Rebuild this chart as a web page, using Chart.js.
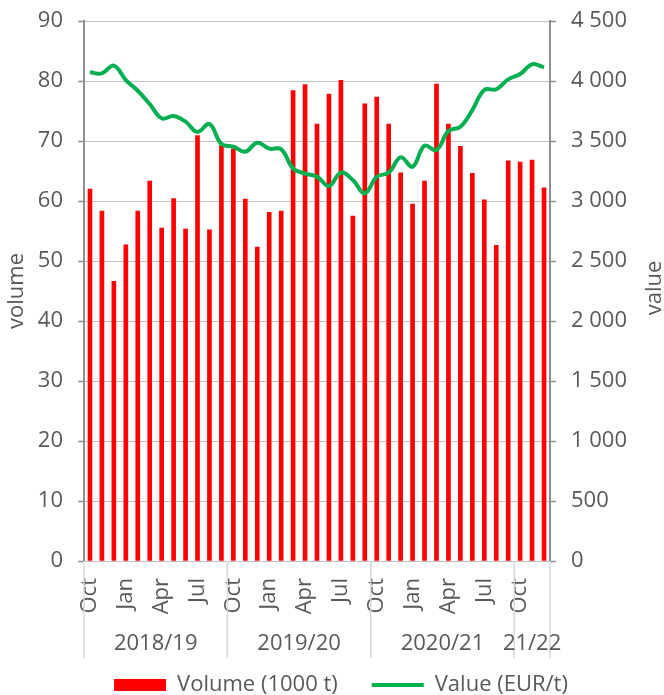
<!DOCTYPE html>
<html>
<head>
<meta charset="utf-8">
<script src="https://cdn.jsdelivr.net/npm/chart.js@4"></script>
<style>
html,body{margin:0;padding:0;background:#fff;}
#wrap{width:664px;height:695px;position:relative;}
</style>
</head>
<body>
<div id="wrap"><canvas id="c" width="664" height="695"></canvas></div>
<script>
// Month categories Oct 2018 .. Dec 2021
const months = ['Oct','Nov','Dec','Jan','Feb','Mar','Apr','May','Jun','Jul','Aug','Sep',
                'Oct','Nov','Dec','Jan','Feb','Mar','Apr','May','Jun','Jul','Aug','Sep',
                'Oct','Nov','Dec','Jan','Feb','Mar','Apr','May','Jun','Jul','Aug','Sep',
                'Oct','Nov','Dec'];
const years = ['2018/19','2019/20','2020/21','21/22'];
const yearSizes = [12, 12, 12, 3];

// Volume (1000 t)
const volume = [62.0, 58.3, 46.6, 52.7, 58.3, 63.3, 55.5, 60.4, 55.3, 70.9, 55.2, 69.2,
                68.7, 60.3, 52.3, 58.1, 58.3, 78.4, 79.4, 72.8, 77.8, 80.1, 57.5, 76.2,
                77.3, 72.8, 64.7, 59.5, 63.3, 79.5, 72.8, 69.1, 64.6, 60.2, 52.6, 66.7,
                66.5, 66.8, 62.2];
// Value (EUR/t)
const value = [4072, 4064, 4128, 4008, 3919, 3808, 3689, 3708, 3661, 3575, 3642, 3475,
               3453, 3411, 3486, 3436, 3431, 3272, 3228, 3203, 3125, 3236, 3175, 3064,
               3203, 3236, 3364, 3286, 3461, 3425, 3583, 3619, 3758, 3925, 3931, 4014,
               4058, 4139, 4114];

const FONT = 'Open Sans';
const TXT = '#595959';
const AXIS = '#8f8f8f';
const GRID = '#c0c0c0';

const fmt = v => String(v).replace(/\B(?=(\d{3})+(?!\d))/g, ' ');

const extras = {
  id: 'extras',
  afterLayout(chart) {
    if (chart.legend) { chart.legend.left += 18; }
  },
  afterDraw(chart) {
    const ctx = chart.ctx;
    const x = chart.scales.x;
    const area = chart.chartArea;
    ctx.save();
    // group separators
    ctx.strokeStyle = '#d9d9d9';
    ctx.lineWidth = 1.5;
    let acc = 0;
    const bounds = [-0.5];
    yearSizes.forEach(n => { acc += n; bounds.push(acc - 0.5); });
    bounds.forEach(b => {
      const px = x.getPixelForValue(b);
      ctx.beginPath();
      ctx.moveTo(px, area.bottom);
      ctx.lineTo(px, area.bottom + 97);
      ctx.stroke();
    });
    // year labels
    ctx.fillStyle = TXT;
    ctx.font = '22px "' + FONT + '"';
    ctx.textAlign = 'center';
    ctx.textBaseline = 'middle';
    acc = 0;
    years.forEach((yl, i) => {
      const s = acc, e = acc + yearSizes[i] - 1;
      acc += yearSizes[i];
      const cx = (x.getPixelForValue(s - 0.5) + x.getPixelForValue(e + 0.5)) / 2;
      ctx.fillText(yl, cx, area.bottom + 83);
    });
    // right axis title (reads bottom-to-top)
    ctx.translate(655, (area.top + area.bottom) / 2 - 3);
    ctx.rotate(-Math.PI / 2);
    ctx.fillText('value', 0, 0);
    ctx.restore();
  }
};

const fitY = w => s => { s.width = w; s.paddingTop = 0; s.paddingBottom = 0; };

new Chart(document.getElementById('c'), {
  data: {
    labels: months,
    datasets: [
      {
        type: 'bar',
        label: 'Volume (1000 t)',
        data: volume,
        backgroundColor: '#ff0000',
        borderWidth: 0,
        barThickness: 4,
        yAxisID: 'y',
        order: 1
      },
      {
        type: 'line',
        label: 'Value (EUR/t)',
        data: value,
        borderColor: '#00b050',
        backgroundColor: '#00b050',
        borderWidth: 4,
        pointRadius: 0,
        tension: 0.4,
        yAxisID: 'y1',
        order: 0
      }
    ]
  },
  options: {
    responsive: false,
    animation: false,
    layout: { padding: { top: 21, left: 0, right: 0, bottom: 0 } },
    scales: {
      x: {
        type: 'category',
        offset: true,
        grid: { display: false },
        border: { display: false },
        ticks: {
          autoSkip: false,
          maxRotation: 90,
          minRotation: 90,
          padding: 9,
          color: TXT,
          font: { family: FONT, size: 22 },
          callback: function (val, idx) { return idx % 3 === 0 ? this.getLabelForValue(val) : ''; }
        },
        afterFit: s => { s.height = 79; }
      },
      y: {
        position: 'left',
        min: 0, max: 90,
        ticks: { stepSize: 10, padding: 15, color: TXT, font: { family: FONT, size: 22 } },
        grid: { color: GRID, lineWidth: 1, tickColor: AXIS, tickLength: 6, tickWidth: 1.5 },
        border: { display: true, color: AXIS, width: 2 },
        title: { display: true, text: 'volume', color: TXT, font: { family: FONT, size: 22 }, padding: { top: 4, bottom: 0 } },
        afterFit: fitY(84)
      },
      y1: {
        position: 'right',
        min: 0, max: 4500,
        ticks: { stepSize: 500, padding: 15, color: TXT, font: { family: FONT, size: 22 }, callback: v => fmt(v) },
        grid: { drawOnChartArea: false, tickColor: AXIS, tickLength: 6, tickWidth: 1.5 },
        border: { display: true, color: AXIS, width: 2 },
        afterFit: fitY(114)
      }
    },
    plugins: {
      tooltip: { enabled: false },
      legend: {
        position: 'bottom',
        maxHeight: 55,
        labels: {
          usePointStyle: true,
          pointStyleWidth: 52,
          boxHeight: 12,
          padding: 34,
          color: TXT,
          font: { family: FONT, size: 22 },
          sort: (a, b) => a.datasetIndex - b.datasetIndex,
          generateLabels(chart) {
            const items = Chart.defaults.plugins.legend.labels.generateLabels(chart);
            items.forEach(it => {
              if (it.datasetIndex === 0) {
                it.pointStyle = 'rect'; it.lineWidth = 0;
                it.fillStyle = '#ff0000'; it.strokeStyle = '#ff0000';
              } else {
                it.pointStyle = 'line'; it.lineWidth = 4;
                it.strokeStyle = '#00b050'; it.fillStyle = '#00b050';
              }
            });
            return items;
          }
        }
      }
    }
  },
  plugins: [extras]
});
</script>
</body>
</html>
